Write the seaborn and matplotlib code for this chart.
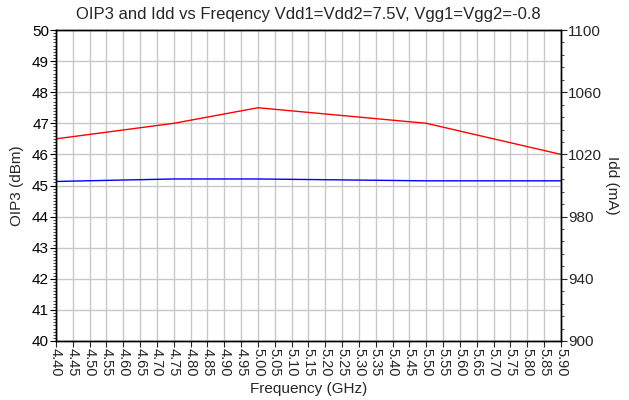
import numpy as np
import pandas as pd
import matplotlib
matplotlib.use("Agg")
import matplotlib.pyplot as plt
from matplotlib.ticker import MultipleLocator
import seaborn as sns

# dati
freq = [4.40, 4.75, 5.00, 5.50, 5.90]
oip3 = [46.5, 47.0, 47.5, 47.0, 46.0]
idd = [1002.6, 1004.2, 1004.2, 1003.0, 1003.0]

x_ticks = [round(4.40 + 0.05 * i, 2) for i in range(31)]
x_labels = [f"{v:.2f}" for v in x_ticks]
idd_ticks = [900, 940, 980, 1020, 1060, 1100]
idd_minor = list(range(900, 1101, 8))

df = pd.DataFrame({"Frequency": freq, "OIP3": oip3, "Idd": idd})

sns.set_theme(style="white")
plt.rcParams["font.family"] = ["Liberation Sans", "DejaVu Sans"]

fig = plt.figure(figsize=(6.29, 4.0), dpi=100)
ax = fig.add_axes([56 / 629, 1 - 341 / 400, (561 - 56) / 629, (341 - 30) / 400])
ax2 = ax.twinx()

sns.lineplot(data=df, x="Frequency", y="OIP3", ax=ax, color="#ff0000", linewidth=1)
sns.lineplot(data=df, x="Frequency", y="Idd", ax=ax2, color="#0000ff", linewidth=1)

ax.set_xlim(4.40, 5.90)
ax.set_ylim(40, 50)
ax2.set_ylim(900, 1100)

ax.set_xticks(x_ticks)
ax.set_xticklabels(x_labels, rotation=-90, fontsize=10.5)
ax.yaxis.set_major_locator(MultipleLocator(1))
ax.yaxis.set_minor_locator(MultipleLocator(0.1))
ax2.set_yticks(idd_ticks)
ax2.set_yticks(idd_minor, minor=True)

ax.grid(True, which="major", color="#c8c8c8", linewidth=1)
ax.set_axisbelow(True)

ax.tick_params(axis="y", which="major", direction="out", length=4, width=0.8,
               colors="black", labelsize=11, left=True, pad=1)
ax.tick_params(axis="y", which="minor", direction="out", length=2, width=0.6, left=True)
ax.tick_params(axis="x", which="major", direction="out", length=4, width=0.8,
               bottom=True, pad=1)
ax2.tick_params(axis="y", which="major", direction="out", length=4, width=0.8,
                labelsize=11, right=True, pad=1)
ax2.tick_params(axis="y", which="minor", direction="out", length=2, width=0.6, right=True)

for a in (ax, ax2):
    for s in a.spines.values():
        s.set_color("black")
        s.set_linewidth(1)
        s.set_visible(True)

ax.set_xlabel("Frequency (GHz)", fontsize=11, labelpad=4)
ax.set_ylabel("OIP3 (dBm)", fontsize=11, labelpad=6)
ax2.set_ylabel("Idd (mA)", fontsize=11, rotation=-90, labelpad=12)
ax.set_title("OIP3 and Idd vs Freqency Vdd1=Vdd2=7.5V, Vgg1=Vgg2=-0.8", fontsize=12, pad=8)

plt.savefig("out.png", dpi=100)
